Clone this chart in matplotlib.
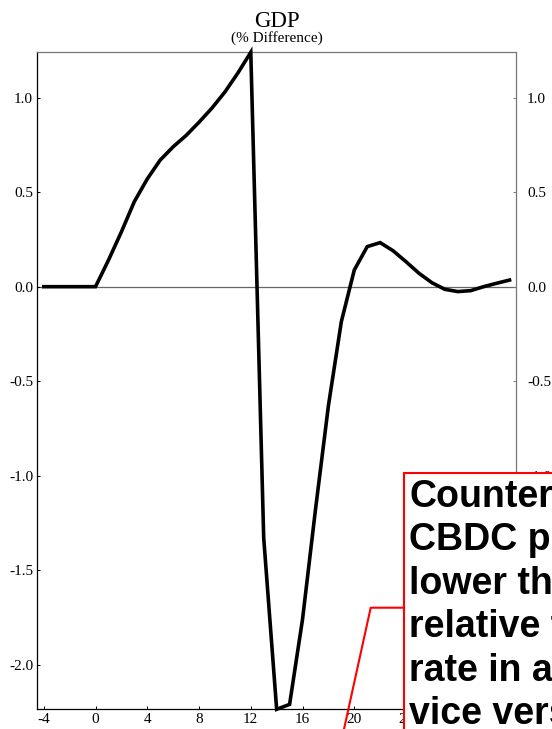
import numpy as np
import matplotlib.pyplot as plt
from matplotlib.lines import Line2D
from matplotlib.patches import Rectangle

plt.rcParams['axes.unicode_minus'] = False

# Data (quarters vs % difference)
quarters = list(range(-4, 33))
gdp = [0.0, 0.0, 0.0, 0.0, 0.0,
       0.14, 0.29, 0.45, 0.57, 0.67, 0.74, 0.80, 0.87, 0.945, 1.03, 1.13, 1.24,
       -1.33, -2.236, -2.21, -1.76, -1.18, -0.63, -0.185,
       0.088, 0.212, 0.233, 0.19, 0.132, 0.071, 0.021, -0.014, -0.026, -0.021,
       0.0, 0.018, 0.035]
x_ticks = list(range(-4, 33, 4))
y_ticks = [-2.0, -1.5, -1.0, -0.5, 0.0, 0.5, 1.0]

title = "GDP"
subtitle = "(% Difference)"
callout_lines = ["Counterfactual", "CBDC policy", "lower the", "relative to",
                 "rate in a", "vice versa"]

W, H = 552, 729
serif = ['Liberation Serif', 'DejaVu Serif']

fig = plt.figure(figsize=(W / 100, H / 100), dpi=100)
ax = fig.add_axes([37.3 / W, 1 - 709.3 / H, (516 - 37.3) / W, (709.3 - 52.3) / H])

ax.axhline(0, color='#666666', lw=0.9, zorder=1)
ax.plot(quarters, gdp, color='black', lw=2.6, clip_on=False, zorder=3,
        solid_joinstyle='miter')

ax.set_xlim(-4.5, 32.5)
ax.set_ylim(min(gdp), max(gdp))
ax.set_xticks(x_ticks)
ax.set_yticks(y_ticks)
ax.set_yticklabels([f"{v:.1f}" for v in y_ticks])

for side in ('left', 'bottom'):
    ax.spines[side].set_color('black')
    ax.spines[side].set_linewidth(0.9)
for side in ('top', 'right'):
    ax.spines[side].set_color('#777777')
    ax.spines[side].set_linewidth(0.9)

ax.tick_params(direction='in', length=2.5, width=0.7, pad=3, labelsize=11)
for lab in ax.get_xticklabels() + ax.get_yticklabels():
    lab.set_family(serif)

# right-hand labels
ax2 = ax.twinx()
ax2.set_ylim(ax.get_ylim())
ax2.set_yticks(y_ticks)
ax2.set_yticklabels([f"{v:.1f}" for v in y_ticks])
ax2.tick_params(direction='in', length=2.5, width=0.7, pad=8, labelsize=11,
                color='#777777')
for lab in ax2.get_yticklabels():
    lab.set_family(serif)
for s in ax2.spines.values():
    s.set_visible(False)

fig.text(276.7 / W, 1 - 26.7 / H, title, ha='center', va='baseline',
         fontsize=16.5, family=serif)
fig.text(276.7 / W, 1 - 41.7 / H, subtitle, ha='center', va='baseline',
         fontsize=11, family=serif)

# callout box (cut off by the figure edge)
box = Rectangle((404 / W, -0.1), 0.5, 1 - 472.7 / H + 0.1,
                transform=fig.transFigure, facecolor='white', edgecolor='red',
                lw=1.5, zorder=5)
fig.add_artist(box)
y_first = 506.7
for i, line in enumerate(callout_lines):
    fig.text(409.3 / W, 1 - (y_first + 43.5 * i) / H, line, ha='left',
             va='baseline', fontsize=27, fontweight='bold',
             family=['Liberation Sans', 'DejaVu Sans'], zorder=6)

leader = Line2D([404 / W, 370.7 / W, 337.2 / W],
                [1 - 607.7 / H, 1 - 607.7 / H, 1 - 760 / H],
                transform=fig.transFigure, color='red', lw=1.5, zorder=5)
fig.add_artist(leader)

fig.savefig('out.png', dpi=100)
